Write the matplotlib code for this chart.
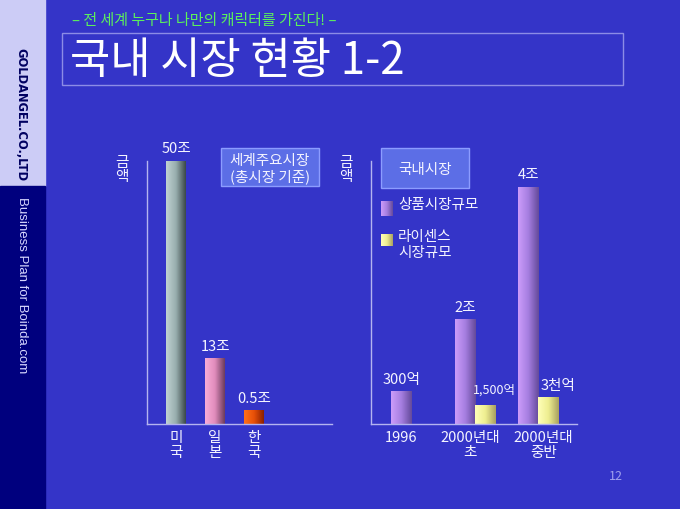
import numpy as np
import matplotlib
matplotlib.use('Agg')
import matplotlib.pyplot as plt
from matplotlib.colors import LinearSegmentedColormap
from matplotlib.patches import Rectangle

plt.rcParams['font.family'] = ['Noto Sans CJK KR', 'DejaVu Sans']

# 세계 주요시장 (그림에서 읽은 막대 높이, 단위: 조, 축 상단 = 50)
world_names = ['미\n국', '일\n본', '한\n국']
world_heights = [50, 12.5, 2.5]
world_labels = ['50조', '13조', '0.5조']

# 국내시장 (그림에서 읽은 막대 높이, 축 상단 = 100)
dom_names = ['1996', '2000년대\n초', '2000년대\n중반']
goods_heights = [12.2, 39.9, 90.1]
goods_labels = ['300억', '2조', '4조']
license_heights = [0, 7.2, 9.9]
license_labels = [None, '1,500억', '3천억']

BG = '#3434c8'
AXIS = '#b4b4f0'
TXT = '#f4f4ff'
FS = 10.5

W, H = 680, 510
fig = plt.figure(figsize=(W / 100, H / 100), dpi=100, facecolor=BG)


def rect(x0, y0, x1, y1):
    # 픽셀 좌표 -> figure 좌표
    return [x0 / W, 1 - y1 / H, (x1 - x0) / W, (y1 - y0) / H]


def grad(ax, x0, x1, y0, y1, colors, z=2):
    cmap = LinearSegmentedColormap.from_list('g', colors)
    img = np.linspace(0, 1, 64).reshape(1, -1)
    ax.imshow(img, cmap=cmap, extent=(x0, x1, y0, y1), aspect='auto',
              interpolation='bicubic', zorder=z)


# 배경 / 장식
bg = fig.add_axes([0, 0, 1, 1], zorder=0)
bg.set_xlim(0, W)
bg.set_ylim(H, 0)
bg.axis('off')
bg.add_patch(Rectangle((0, 0), 45, 187, color='#ccccf6', zorder=1))
bg.add_patch(Rectangle((0, 187), 45, H - 187, color='#00007e', zorder=1))

bg.text(21, 48, 'GOLDANGEL.CO.,LTD', rotation=-90, ha='center', va='top',
        fontsize=8.3, fontweight='bold', color='#000060', family='DejaVu Sans')
bg.text(22, 197, 'Business Plan for Boinda.com', rotation=-90, ha='center',
        va='top', fontsize=9.5, color='#d8d8ff', family='Liberation Sans')

bg.text(72, 21, '– 전 세계 누구나 나만의 캐릭터를 가진다! –', ha='left',
        va='center', fontsize=10.8, color='#5cf05c', style='italic')
bg.add_patch(Rectangle((62, 34), 561, 52, fill=False, ec='#8c8ce6', lw=1,
                       zorder=2))
bg.text(70, 61, '국내 시장 현황 1-2', ha='left', va='center', fontsize=31.5,
        color='white', fontweight='light')

bg.text(616, 477, '12', ha='center', va='center', fontsize=9,
        color='#a0a0ee')

# 상자들
bg.add_patch(Rectangle((221, 149), 98, 38, fc='#5c6ee6', ec='#8c9cff',
                       lw=1, zorder=2))
bg.text(270, 169, '세계주요시장\n(총시장 기준)', ha='center', va='center',
        fontsize=FS, color=TXT, linespacing=1.15, zorder=3)
bg.add_patch(Rectangle((381, 149), 88, 40, fc='#5c6ee6', ec='#8c9cff',
                       lw=1, zorder=2))
bg.text(425, 170, '국내시장', ha='center', va='center', fontsize=FS,
        color=TXT, zorder=3)

# 금액 라벨
for x in (122, 346):
    bg.text(x, 170, '금\n액', ha='center', va='center', fontsize=FS,
            color=TXT, linespacing=1.0)

# 범례
purple = ['#cc9cfa', '#a57ee0', '#644a9a']
yellow = ['#ffffb8', '#eeee90', '#a8a060']
grad(bg, 381, 393, 217, 202, purple, z=3)
grad(bg, 381, 393, 247, 235, yellow, z=3)
bg.text(398, 205, '상품시장규모', ha='left', va='center', fontsize=FS,
        color=TXT)
bg.text(398, 245, '라이센스\n시장규모', ha='left', va='center', fontsize=FS,
        color=TXT, linespacing=1.1)
bg.set_xlim(0, W)
bg.set_ylim(H, 0)


def style_axes(ax):
    ax.set_facecolor('none')
    for s in ('top', 'right'):
        ax.spines[s].set_visible(False)
    for s in ('left', 'bottom'):
        ax.spines[s].set_color(AXIS)
        ax.spines[s].set_linewidth(1)
    ax.set_yticks([])
    ax.tick_params(axis='x', length=0, pad=4, colors=TXT, labelsize=FS)
    for t in ax.get_xticklabels():
        t.set_linespacing(1.1)


# 왼쪽 차트: 세계주요시장
ax1 = fig.add_axes(rect(147, 162, 332, 425), zorder=1)
bw1 = 20 / 39
world_colors = [
    ['#c0d2d2', '#98aeae', '#3a4848'],
    ['#faacd8', '#e08cbc', '#6c3c5c'],
    ['#ff7018', '#e85008', '#8a2000'],
]
for i, (h, lab, cols) in enumerate(zip(world_heights, world_labels,
                                        world_colors)):
    grad(ax1, i - bw1 / 2, i + bw1 / 2, 0, h, cols)
    ax1.annotate(lab, (i, h), xytext=(0, 4), textcoords='offset points',
                 ha='center', va='bottom', fontsize=FS, color=TXT,
                 annotation_clip=False)
ax1.set_xlim(-0.744, 4.0)
ax1.set_ylim(0, 50)
ax1.set_xticks(range(len(world_names)), world_names)
style_axes(ax1)

# 오른쪽 차트: 국내시장
ax2 = fig.add_axes(rect(371, 162, 577, 425), zorder=1)
bw2 = 20 / 63.5
for i, (gh, gl, lh, ll) in enumerate(zip(goods_heights, goods_labels,
                                          license_heights, license_labels)):
    grad(ax2, i - bw2 / 2, i + bw2 / 2, 0, gh, purple)
    ax2.annotate(gl, (i, gh), xytext=(0, 4), textcoords='offset points',
                 ha='center', va='bottom', fontsize=FS, color=TXT,
                 annotation_clip=False)
    if lh > 0:
        xl = i + bw2
        grad(ax2, xl - bw2 / 2, xl + bw2 / 2, 0, lh, yellow)
        ax2.annotate(ll, (xl, lh), xytext=(7, 4 if ll == '3천억' else 7),
                     textcoords='offset points', ha='center', va='bottom',
                     fontsize=9 if ll == '1,500억' else FS, color=TXT,
                     annotation_clip=False)
# 원본 슬라이드처럼 라벨 위치를 조금씩 어긋나게
ticks = [0, 1 + bw2 * 0.25, 2 + bw2 * 0.75]
ax2.set_xlim(-0.48, 2.764)
ax2.set_ylim(0, 100)
ax2.set_xticks(ticks, dom_names)
style_axes(ax2)

fig.savefig('out.png', dpi=100, facecolor=BG)
